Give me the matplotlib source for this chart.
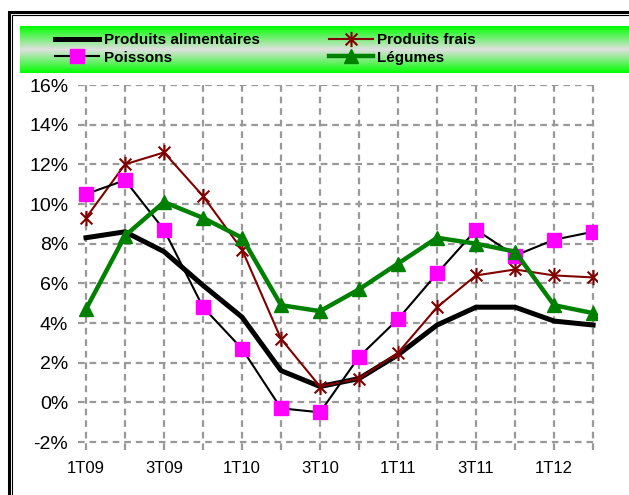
import numpy as np
import matplotlib
matplotlib.use("Agg")
import matplotlib.pyplot as plt
from matplotlib.path import Path
from matplotlib.patches import Rectangle

plt.rcParams['font.family'] = ['Liberation Sans', 'DejaVu Sans']

# Données (glissement annuel, %)
trimestres = ["1T09", "2T09", "3T09", "4T09", "1T10", "2T10", "3T10",
              "4T10", "1T11", "2T11", "3T11", "4T11", "1T12", "2T12"]
produits_alimentaires = [8.3, 8.6, 7.6, 5.9, 4.3, 1.6, 0.8, 1.2, 2.4, 3.9, 4.8, 4.8, 4.1, 3.9]
produits_frais = [9.3, 12.0, 12.6, 10.4, 7.7, 3.2, 0.8, 1.2, 2.5, 4.8, 6.4, 6.7, 6.4, 6.3]
poissons = [10.5, 11.2, 8.7, 4.8, 2.7, -0.3, -0.5, 2.3, 4.2, 6.5, 8.7, 7.4, 8.2, 8.6]
legumes = [4.7, 8.4, 10.1, 9.3, 8.3, 4.9, 4.6, 5.7, 7.0, 8.3, 8.0, 7.6, 4.9, 4.5]

x = np.arange(len(trimestres))

# marqueur étoile façon Excel (X + trait vertical)
etoile = Path([(-1, -1), (1, 1), (-1, 1), (1, -1), (0, -1.3), (0, 1.3)],
              [Path.MOVETO, Path.LINETO, Path.MOVETO, Path.LINETO, Path.MOVETO, Path.LINETO])

fig = plt.figure(figsize=(6.29, 4.95), dpi=100)

# double cadre
W, H = 629.0, 495.0
fig.patches.append(Rectangle((8.5 / W, 0 - 0.2), 1.2, (H - 11.5) / H + 0.2, transform=fig.transFigure,
                             fill=False, lw=2.2, ec="black", clip_on=False))
fig.patches.append(Rectangle((12 / W, 0 - 0.2), 1.2, (H - 15) / H + 0.2, transform=fig.transFigure,
                             fill=False, lw=0.8, ec="black", clip_on=False))

# bandeau de légende en dégradé
bande = fig.add_axes([20 / W, 1 - 73 / H, 1 - 20 / W, 47 / H])
t = np.linspace(0, 1, 100)
g = np.abs(t - 0.5) * 2
couleurs = np.zeros((100, 1, 3))
couleurs[:, 0, 0] = 0.88 * (1 - g)
couleurs[:, 0, 1] = 0.88 + 0.12 * g
couleurs[:, 0, 2] = 0.88 * (1 - g)
bande.imshow(couleurs, aspect="auto", extent=[0, 1, 0, 1])
bande.axis("off")

ax = fig.add_axes([78 / W, 45 / H, (597 - 78) / W, (450 - 85) / H])

ax.plot(x, produits_alimentaires, color="black", lw=3.6, label="Produits alimentaires", zorder=3)
ax.plot(x, produits_frais, color="#800000", lw=1.5, marker=etoile, ms=11, mew=1.5,
        mec="#800000", mfc="none", label="Produits frais", zorder=4)
ax.plot(x, poissons, color="black", lw=1.5, marker="s", ms=10, mfc="#ff00ff", mec="#ff00ff",
        label="Poissons", zorder=5)
ax.plot(x, legumes, color="#008000", lw=3.2, marker="^", ms=10, mfc="#008000", mec="#008000",
        label="Légumes", zorder=6)

ax.set_xlim(-0.205, 13.1)
ax.set_ylim(-2.4, 16)
ax.set_yticks(np.arange(-2, 17, 2))
ax.set_yticklabels([f"{v}%" for v in range(-2, 17, 2)])
ax.set_xticks(x)
ax.set_xticklabels([lab if i % 2 == 0 else "" for i, lab in enumerate(trimestres)])
ax.tick_params(axis="y", length=0, pad=7, labelsize=14)
ax.tick_params(axis="x", length=0, pad=8, labelsize=12)
ax.grid(True, color="#999999", lw=1.6, linestyle=(0, (3, 2.2)))
ax.set_axisbelow(True)
for s in ax.spines.values():
    s.set_visible(False)

h, l = ax.get_legend_handles_labels()
ordre = [0, 2, 1, 3]
fig.legend([h[i] for i in ordre], [l[i] for i in ordre], ncol=2, loc="upper left",
           bbox_to_anchor=(55 / W, 1 - 33 / H), frameon=False, borderpad=0, borderaxespad=0,
           handlelength=2.9, handletextpad=0.3, columnspacing=4.5, labelspacing=0.25,
           prop={"weight": "bold", "size": 11})

fig.savefig("out.png", dpi=100)
